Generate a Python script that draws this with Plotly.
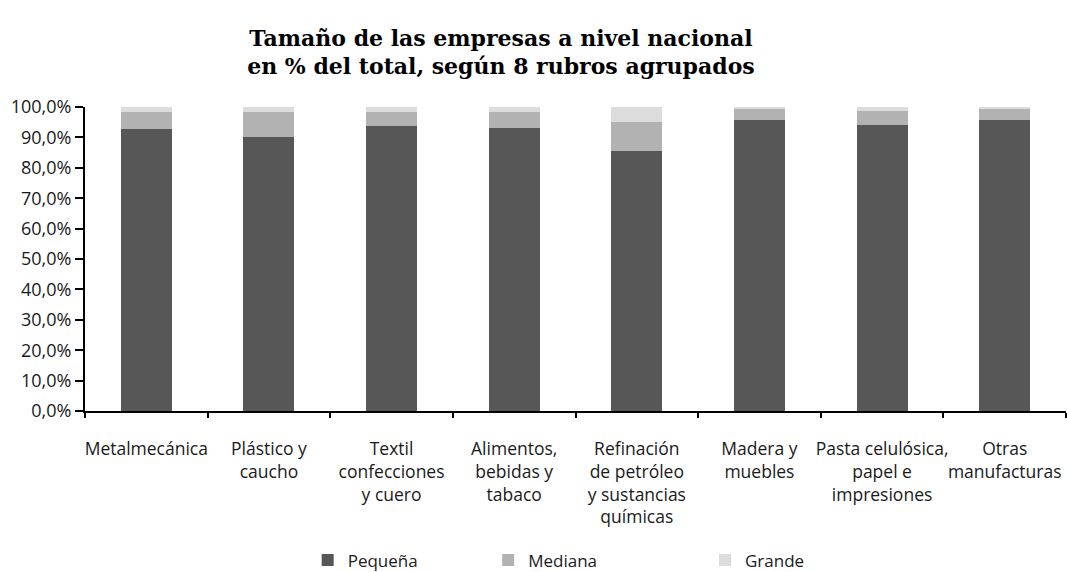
import plotly.graph_objects as go

categories = [
    "Metalmecánica",
    "Plástico y<br>caucho",
    "Textil<br>confecciones<br>y cuero",
    "Alimentos,<br>bebidas y<br>tabaco",
    "Refinación<br>de petróleo<br>y sustancias<br>químicas",
    "Madera y<br>muebles",
    "Pasta celulósica,<br>papel e<br>impresiones",
    "Otras<br>manufacturas",
]
pequena = [92.9, 90.1, 93.8, 93.1, 85.5, 95.7, 94.1, 95.7]
mediana = [5.5, 8.3, 4.6, 5.3, 9.6, 3.6, 4.6, 3.6]
grande = [1.6, 1.6, 1.6, 1.6, 4.9, 0.7, 1.3, 0.7]

BODY_FONT = "'Open Sans', 'Noto Sans', sans-serif"

fig = go.Figure()

# stacked series, bottom to top; each one gets its own legend box
series = [
    ("Pequeña", pequena, "#575757", "legend", 0.227),
    ("Mediana", mediana, "#b2b2b2", "legend2", 0.411),
    ("Grande", grande, "#dcdcdc", "legend3", 0.632),
]

for name, values, color, legend_id, _ in series:
    fig.add_trace(
        go.Bar(
            x=categories,
            y=values,
            name=name,
            legend=legend_id,
            marker=dict(color=color, line=dict(width=0)),
        )
    )

legends = {}
for _, _, _, legend_id, xpos in series:
    legends[legend_id] = dict(
        orientation="h",
        x=xpos,
        xanchor="left",
        yref="container",
        y=0.02,
        yanchor="middle",
        font=dict(family=BODY_FONT, size=17, color="#1a1a1a"),
        bgcolor="rgba(0,0,0,0)",
    )

fig.update_layout(
    barmode="stack",
    bargap=0.584,
    width=1067,
    height=572,
    separators=",.",
    paper_bgcolor="white",
    plot_bgcolor="white",
    font=dict(family=BODY_FONT, size=17, color="#1a1a1a"),
    title=dict(
        text="Tamaño de las empresas a nivel nacional<br>en % del total, según 8 rubros agrupados",
        x=0.4695,
        xanchor="center",
        y=0.920,
        yanchor="middle",
        font=dict(family="'DejaVu Serif', serif", size=22, color="#000000", weight="bold"),
    ),
    margin=dict(l=85, r=1, t=107, b=161),
    showlegend=True,
    **legends,
)

fig.update_xaxes(
    showline=True,
    linecolor="#000000",
    linewidth=2,
    ticks="outside",
    tickson="boundaries",
    ticklen=5,
    tickcolor="#000000",
    tickwidth=1.5,
    showgrid=False,
    tickangle=0,
    ticklabelstandoff=21,
    tickfont=dict(size=17.5),
    automargin=False,
)

fig.update_yaxes(
    range=[0, 100],
    dtick=10,
    tickformat=".1f",
    ticksuffix="%",
    showline=True,
    linecolor="#000000",
    linewidth=2,
    ticks="outside",
    ticklen=8,
    tickcolor="#000000",
    tickwidth=2,
    showgrid=False,
    zeroline=False,
    tickfont=dict(size=18),
    automargin=False,
)

# drop the browser's default 8px body margin so the figure fills the window
fig.write_html(
    "out.html",
    config={"displayModeBar": False},
    post_script="document.body.style.margin='0';document.body.style.overflow='hidden';",
)
